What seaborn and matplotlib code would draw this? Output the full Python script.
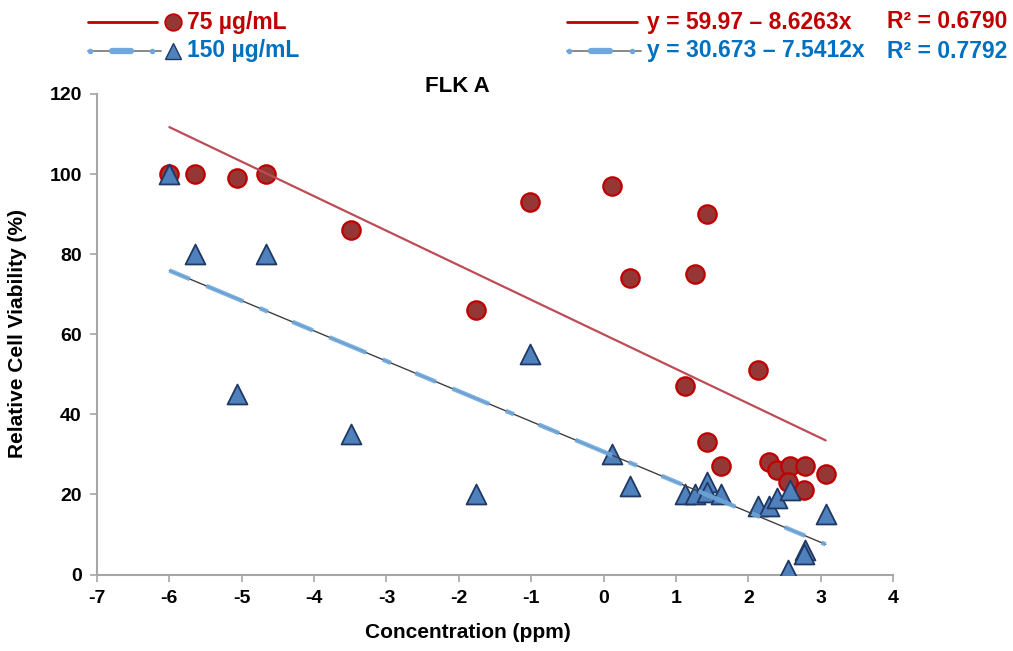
import numpy as np
import pandas as pd
import matplotlib
matplotlib.use("Agg")
import matplotlib.pyplot as plt
from matplotlib.lines import Line2D
import seaborn as sns

# ---------------- data ----------------
conc = [-6.0, -5.65, -5.06, -4.66, -3.49, -1.76, -1.01, 0.12, 0.37, 1.13, 1.26,
        1.43, 1.43, 1.62, 2.14, 2.29, 2.40, 2.57, 2.55, 2.78, 2.77, 3.07]
viab_75 = [100, 100, 99, 100, 86, 66, 93, 97, 74, 47, 75,
           90, 33, 27, 51, 28, 26, 27, 23, 27, 21, 25]
viab_150 = [100, 80, 45, 80, 35, 20, 55, 30, 22, 20, 20,
            23, 20.5, 20, 17, 17, 19, 21, 1, 6, 5, 15]
series_labels = ["75 µg/mL", "150 µg/mL"]
fit_intercepts = [59.97, 30.673]
fit_slopes = [-8.6263, -7.5412]
fit_r2 = ["0.6790", "0.7792"]
eq_labels = ["y = 59.97 – 8.6263x", "y = 30.673 – 7.5412x"]
x_ticks = list(range(-7, 5))
y_ticks = list(range(0, 121, 20))
title = "FLK A"
x_label = "Concentration (ppm)"
y_label = "Relative Cell Viability (%)"

# ---------------- style ----------------
sns.set_theme(style="white")
plt.rcParams['font.family'] = ['Liberation Sans', 'DejaVu Sans']
plt.rcParams['font.weight'] = 'bold'

RED_FILL = "#953735"
RED_EDGE = "#C00000"
RED_LINE = "#BE4B55"
RED_TXT = "#C00000"
BLUE_FILL = "#4F81BD"
BLUE_EDGE = "#1F3864"
BLUE_DASH = "#6FA8DC"
BLUE_TXT = "#0070C0"
GRAY_LINE = "#404040"
SPINE = "#A6A6A6"
DASH_PAT = (0, (5, 4, 9, 4, 2, 6))

W, H = 1013, 651
fig = plt.figure(figsize=(W / 100, H / 100), dpi=100)
ax = fig.add_axes([97 / W, 1 - 574.5 / H, (893 - 97) / W, (574.5 - 94) / H])

n = len(conc)
df = pd.DataFrame({
    "conc": conc * 2,
    "viab": viab_75 + viab_150,
    "series": [series_labels[0]] * n + [series_labels[1]] * n,
})

sns.scatterplot(data=df[df.series == series_labels[0]], x="conc", y="viab",
                marker="o", s=175, color=RED_FILL, edgecolor=RED_EDGE,
                linewidth=1.6, ax=ax, legend=False, zorder=3)
sns.scatterplot(data=df[df.series == series_labels[1]], x="conc", y="viab",
                marker="^", s=205, color=BLUE_FILL, edgecolor=BLUE_EDGE,
                linewidth=1.3, ax=ax, legend=False, zorder=4)

# regression lines from the stated equations
x_fit = np.array([min(conc), max(conc)])
y_fit_75 = fit_intercepts[0] + fit_slopes[0] * x_fit
y_fit_150 = fit_intercepts[1] + fit_slopes[1] * x_fit
sns.lineplot(x=x_fit, y=y_fit_75, color=RED_LINE, linewidth=1.6, ax=ax, zorder=5)
sns.lineplot(x=x_fit, y=y_fit_150, color=GRAY_LINE, linewidth=1.0, ax=ax, zorder=5)
sns.lineplot(x=x_fit, y=y_fit_150, color=BLUE_DASH, linewidth=3.2, ax=ax,
             zorder=6, linestyle=DASH_PAT, alpha=0.9)

# ---------------- axes ----------------
ax.set_xlim(-7, 4)
ax.set_ylim(0, 120)
ax.set_xticks(x_ticks)
ax.set_yticks(y_ticks)
ax.set_xticklabels([str(t) for t in x_ticks], fontsize=14, fontweight='bold')
ax.set_yticklabels([str(t) for t in y_ticks], fontsize=14, fontweight='bold')
ax.set_xlabel("")
ax.set_ylabel("")
for side in ["top", "right"]:
    ax.spines[side].set_visible(False)
for side in ["left", "bottom"]:
    ax.spines[side].set_color(SPINE)
    ax.spines[side].set_linewidth(1.5)
ax.tick_params(axis="both", which="major", direction="out", length=5,
               width=1.2, color=SPINE, labelcolor="black", pad=6,
               bottom=True, left=True)
ax.grid(False)

fig.text(457 / W, 1 - 86 / H, title, fontsize=16, fontweight='bold',
         ha="center", va="center", color="black")
fig.text(468 / W, 1 - 633 / H, x_label, fontsize=15, fontweight='bold',
         ha="center", va="center", color="black")
fig.text(18 / W, 1 - 333 / H, y_label, fontsize=15, fontweight='bold',
         ha="center", va="center", rotation=90, color="black")

# ---------------- custom legend ----------------
def fx(px):
    return px / W

def fy(py):
    return 1 - py / H

row_y = [22, 51]
# left block
fig.add_artist(Line2D([fx(88), fx(157)], [fy(row_y[0])] * 2, color=RED_EDGE,
                      lw=2.0, transform=fig.transFigure))
fig.add_artist(Line2D([fx(173)], [fy(row_y[0])], marker="o", markersize=12,
                      color=RED_FILL, markeredgecolor=RED_EDGE, mew=1.2,
                      transform=fig.transFigure))
fig.add_artist(Line2D([fx(88), fx(161)], [fy(row_y[1])] * 2, color="#7F7F7F",
                      lw=1.3, transform=fig.transFigure))
fig.add_artist(Line2D([fx(112), fx(131)], [fy(row_y[1])] * 2, color=BLUE_DASH,
                      lw=4.5, solid_capstyle="round", transform=fig.transFigure))
fig.add_artist(Line2D([fx(90), fx(152)], [fy(row_y[1])] * 2, color=BLUE_DASH,
                      lw=0, marker="o", markersize=4, mew=0,
                      transform=fig.transFigure))
fig.add_artist(Line2D([fx(173)], [fy(row_y[1])], marker="^", markersize=12,
                      color=BLUE_FILL, markeredgecolor=BLUE_EDGE, mew=1.0,
                      transform=fig.transFigure))
fig.text(fx(187), fy(row_y[0]), series_labels[0], fontsize=16.5,
         fontweight='bold', color=RED_TXT, ha="left", va="center")
fig.text(fx(187), fy(row_y[1]), series_labels[1], fontsize=16.5,
         fontweight='bold', color=BLUE_TXT, ha="left", va="center")

# right block
fig.add_artist(Line2D([fx(567), fx(637)], [fy(row_y[0])] * 2, color=RED_EDGE,
                      lw=2.0, transform=fig.transFigure))
fig.add_artist(Line2D([fx(567), fx(641)], [fy(row_y[1])] * 2, color="#7F7F7F",
                      lw=1.3, transform=fig.transFigure))
fig.add_artist(Line2D([fx(591), fx(610)], [fy(row_y[1])] * 2, color=BLUE_DASH,
                      lw=4.5, solid_capstyle="round", transform=fig.transFigure))
fig.add_artist(Line2D([fx(569), fx(632)], [fy(row_y[1])] * 2, color=BLUE_DASH,
                      lw=0, marker="o", markersize=4, mew=0,
                      transform=fig.transFigure))
txt_colors = [RED_TXT, BLUE_TXT]
for i in range(2):
    fig.text(fx(647), fy(row_y[i]), eq_labels[i], fontsize=16.5,
             fontweight='bold', color=txt_colors[i], ha="left", va="center")
    fig.text(fx(1007), fy(row_y[i]), "R² = " + fit_r2[i], fontsize=16.5,
             fontweight='bold', color=txt_colors[i], ha="right", va="center")

fig.savefig("out.png", dpi=100)
